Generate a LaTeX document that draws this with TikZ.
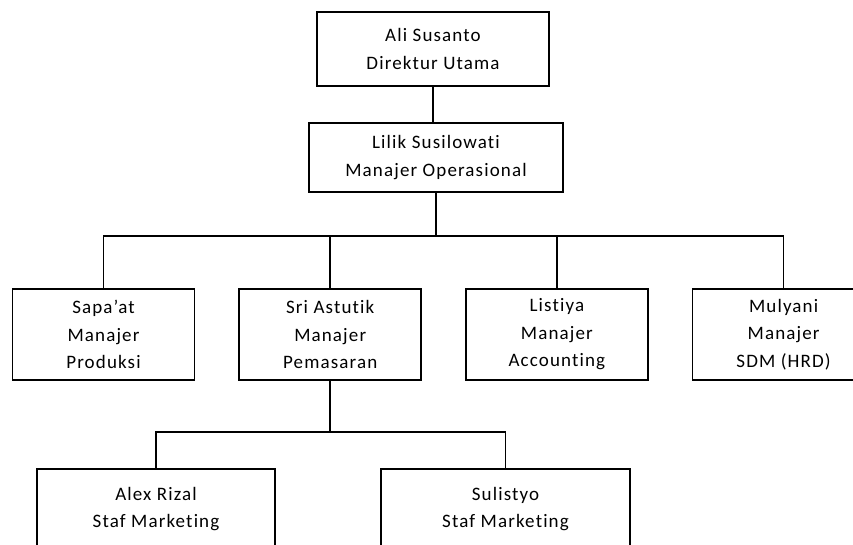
\documentclass[tikz,border=0pt]{standalone}
\usepackage{fontspec}
\setmainfont{Carlito}[Ligatures=NoCommon,LetterSpace=6]
\usetikzlibrary{positioning}

\begin{document}
\begin{tikzpicture}[
  x=1pt,y=-1pt,
  node distance=43pt,
  box/.style={draw,line width=1.7pt,align=center,inner sep=0pt,
              font=\fontsize{19}{27.5}\selectfont},
  mgr/.style={box,minimum width=182pt,minimum height=91pt},
  staf/.style={box,minimum height=80pt},
  link/.style={line width=1.6pt}
]
\useasboundingbox (0,0) rectangle (853,544);
\clip (0,0) rectangle (853,544);
% pimpinan
\node[box,minimum width=232pt,minimum height=74pt] (ali) at (433,49) {Ali Susanto\\Direktur Utama};
\node[box,minimum width=254pt,minimum height=69pt] (lilik) at (436,157.5) {Lilik Susilowati\\Manajer Operasional};
% manajer
\node[mgr] (sapaat) at (103.5,334.5) {Sapa'at\\Manajer\\Produksi};
\node[mgr,right=of sapaat] (sri) {Sri Astutik\\Manajer\\Pemasaran};
\node[mgr,right=of sri] (listiya) {Listiya\\Manajer\\Accounting};
\node[mgr,right=of listiya] (mulyani) {Mulyani\\Manajer\\SDM (HRD)};
% staf
\node[staf,minimum width=238pt] (alex) at (156,509) {Alex Rizal\\Staf Marketing};
\node[staf,minimum width=249pt] (sulistyo) at (505.5,509) {Sulistyo\\Staf Marketing};
% garis
\coordinate (hub) at (lilik.south |- 0,236);
\coordinate (hubstaf) at (sri.south |- 0,432);
\draw[link] (ali.south) -- (ali.south |- lilik.north);
\draw[link] (lilik.south) -- (hub);
\foreach \n in {sapaat,sri,listiya,mulyani}
  \draw[link] (hub) -| (\n.north);
\draw[link] (sri.south) -- (hubstaf);
\foreach \n in {alex,sulistyo}
  \draw[link] (hubstaf) -| (\n.north);
\end{tikzpicture}
\end{document}
